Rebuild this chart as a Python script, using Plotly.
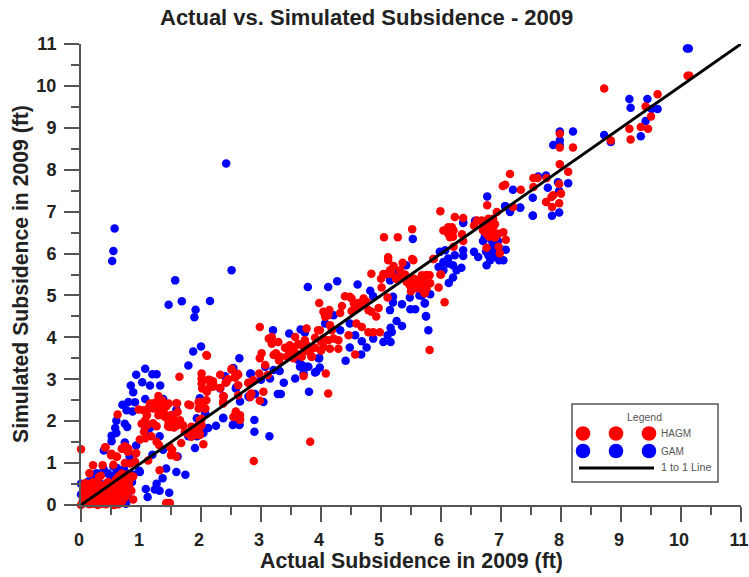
import plotly.graph_objects as go

gam_points = [
(1.46,4.78),(1.68,4.86),(1.91,4.66),(1.89,4.48),(2.15,4.87),(2.0,3.78),(1.87,3.66),(1.79,3.33),(2.64,3.5),(2.54,3.27),
(0.92,3.11),(1.07,3.25),(1.19,3.12),(1.26,3.12),(1.02,2.93),(1.15,2.85),(1.32,2.85),(0.83,2.85),(0.87,2.69),(1.07,2.53),
(0.69,2.39),(0.79,2.46),(0.9,2.45),(0.76,2.26),(0.86,2.23),(0.59,2.01),(0.57,1.84),(0.73,1.94),(0.77,1.86),(0.59,1.72),
(0.51,1.65),(0.51,1.52),(0.73,1.49),(0.38,1.3),(0.92,1.42),(0.81,1.16),(0.98,0.79),(1.07,1.84),(1.15,1.84),(1.07,1.76),
(1.31,1.64),(1.37,1.32),(1.19,1.2),(1.61,1.16),(1.59,2.27),(1.37,2.53),(1.42,0.87),(1.36,0.64),(1.26,0.51),(1.23,0.37),
(1.31,0.34),(1.47,0.29),(1.08,0.38),(1.11,0.19),(1.59,0.79),(1.74,0.72),(1.9,1.36),(1.93,2.07),(2.04,1.72),(2.12,1.84),
(2.25,1.89),(2.37,2.07),(1.98,2.55),(2.07,2.19),(2.54,1.92),(2.64,1.92),(1.79,1.64),(1.93,1.64),(2.59,2.81),(2.4,3.07),
(2.79,2.59),(2.65,2.47),(2.82,3.13),(0.0,0.51),(0.0,0.25),(0.32,0.72),(0.57,0.72),(0.6,0.8),(0.75,0.03),(0.54,0.92),
(0.12,0.56),(0.43,0.52),(0.04,0.13),(0.26,0.76),(0.87,0.72),(2.42,8.15),(0.56,6.6),(0.54,6.06),(0.52,5.82),(1.57,5.36),
(2.51,5.6),(3.2,4.17),(3.47,4.09),(3.66,4.19),(3.73,4.11),(2.83,3.14),(2.32,2.78),(2.58,2.78),(2.81,2.57),(2.9,2.65),
(3.04,2.46),(3.0,2.99),(3.15,3.02),(3.07,3.3),(3.21,3.22),(3.31,3.2),(3.38,2.92),(3.57,3.02),(3.28,2.65),(3.33,2.65),
(3.8,2.7),(3.62,3.46),(3.76,3.3),(3.65,3.3),(3.92,3.18),(3.96,3.5),(2.37,2.08),(2.53,1.91),(2.64,1.91),(2.89,2.03),
(2.89,1.75),(3.14,1.64),(3.78,5.2),(4.12,5.2),(4.27,5.34),(4.61,5.26),(4.82,5.11),(4.87,4.98),(5.15,5.36),(5.29,5.55),
(5.42,5.72),(5.2,4.97),(5.2,4.83),(5.35,4.79),(5.48,4.95),(5.64,5.0),(5.73,4.82),(5.49,4.67),(5.57,4.67),(5.15,4.65),
(5.75,4.5),(5.79,4.17),(5.26,4.39),(5.35,4.27),(5.16,4.23),(5.18,4.13),(5.11,4.05),(5.04,3.89),(5.16,3.89),(4.87,3.97),
(4.68,3.91),(4.76,3.76),(4.67,3.59),(4.48,3.76),(4.57,4.05),(4.41,3.44),(3.97,3.5),(3.79,3.3),(3.98,3.28),(3.9,3.16),
(3.68,3.34),(3.71,3.14),(4.32,4.17),(4.07,4.33),(4.21,4.53),(4.48,4.33),(7.53,6.91),(7.32,7.1),(7.15,7.03),(7.07,7.13),
(6.37,6.75),(6.57,6.78),(5.98,6.04),(6.07,6.08),(6.37,6.08),(6.37,5.94),(6.12,5.88),(6.04,5.8),(5.96,5.68),(6.2,5.72),
(6.34,5.66),(6.04,5.6),(6.12,5.76),(6.26,5.6),(6.2,5.43),(6.13,5.3),(6.23,5.96),(6.55,6.04),(6.62,5.92),(6.76,5.72),
(6.82,5.84),(6.84,6.0),(6.97,5.84),(7.04,5.84),(7.08,6.09),(6.98,6.12),(6.79,5.96),(6.84,6.32),(6.73,6.4),(6.93,6.28),
(5.82,5.03),(5.73,4.81),(5.75,4.51),(5.68,5.0),(10.1,10.89),(10.13,10.89),(9.14,9.69),(9.44,9.69),(9.16,9.48),(9.61,9.45),
(9.51,9.45),(9.41,9.16),(9.33,8.8),(8.72,8.83),(8.83,8.66),(7.98,8.91),(8.2,8.91),(7.98,8.7),(7.87,8.59),(7.98,8.59),
(7.75,7.86),(7.62,7.84),(7.78,7.57),(8.12,7.68),(7.95,7.7),(7.97,7.5),(7.53,7.33),(7.97,6.98),(7.85,6.9),(7.53,6.9),
(7.32,7.09),(7.2,7.52),(6.77,7.36),(7.07,7.13),(7.15,6.99),(6.37,6.73),(5.53,6.35),(6.57,6.77),
(0.2,0.6),(0.05,0.35),(0.3,0.55),(0.45,0.75),(0.5,0.65),(0.75,0.6),(0.85,0.55),(0.38,0.85),(0.6,0.88),(0.72,0.85),
(0.97,0.82),(0.65,0.1),(0.8,0.15),(6.85,6.15),(6.9,6.05),(6.75,6.05),(6.85,5.9),(6.9,5.95),(6.7,6.3),(6.95,6.3),
]

hagm_points = [
(0.0,1.33),(0.2,0.95),(0.36,0.95),(0.14,0.76),(0.41,1.38),(0.51,1.22),(0.59,1.16),(0.54,0.96),(0.73,1.4),(0.68,1.34),
(0.79,1.34),(0.92,1.24),(0.61,2.16),(0.73,1.0),(0.9,1.03),(0.82,0.99),(0.87,0.68),(0.84,0.34),(0.87,0.13),(0.76,0.25),
(1.12,1.06),(1.31,0.83),(1.42,0.05),(1.48,0.05),(2.1,3.56),(1.64,3.06),(2.01,3.14),(2.01,3.02),(2.15,2.98),(2.01,2.9),
(2.02,2.78),(2.15,2.82),(2.2,2.82),(0.96,2.28),(1.04,2.26),(1.15,2.42),(1.29,2.6),(1.21,2.42),(1.32,2.38),(1.46,2.42),
(1.6,2.42),(1.79,2.4),(1.61,2.22),(1.96,2.46),(2.04,2.46),(2.07,2.3),(1.96,2.3),(1.1,2.14),(1.07,2.02),(1.01,1.94),
(1.29,2.14),(1.4,2.1),(1.46,1.98),(1.54,1.98),(1.65,2.02),(1.48,1.86),(1.26,1.88),(1.73,1.74),(1.84,1.78),(1.93,1.86),
(2.01,2.06),(1.98,1.86),(1.9,1.67),(1.84,1.63),(1.98,1.7),(0.98,1.56),(1.07,1.59),(1.17,1.64),(1.26,1.51),(1.3,1.43),
(0.4,1.37),(0.5,1.19),(0.6,1.15),(0.69,1.35),(0.76,1.37),(0.78,1.27),(0.91,1.23),(1.48,1.39),(1.52,1.31),(1.5,1.19),
(1.67,1.48),(2.04,1.45),(1.59,1.15),(1.59,2.43),(2.32,3.11),(2.51,3.25),(2.61,3.13),(2.56,3.05),(2.42,2.93),(2.12,2.99),
(2.21,2.85),(2.32,2.79),(2.38,2.59),(2.37,2.47),(2.79,2.91),(2.82,2.63),(2.58,2.23),(2.62,2.13),(2.57,2.11),(2.65,2.07),
(2.98,4.25),(2.09,3.58),(3.76,4.21),(3.95,4.17),(3.57,4.01),(3.18,4.01),(3.13,3.97),(3.18,3.85),(3.29,3.89),(3.48,3.81),
(3.62,3.84),(3.73,3.89),(3.76,3.81),(3.46,3.69),(3.54,3.62),(3.21,3.58),(3.32,3.54),(3.43,3.54),(3.54,3.5),(3.68,3.54),
(3.79,3.66),(3.85,3.54),(3.01,3.62),(2.98,3.5),(3.07,3.34),(3.71,3.08),(2.51,3.23),(2.41,2.92),(2.57,3.04),(2.62,3.11),
(2.62,2.86),(2.97,3.14),(3.11,3.1),(2.79,2.92),(2.87,2.98),(2.37,2.6),(2.37,2.42),(2.62,2.62),(2.84,2.66),(2.82,2.58),
(3.04,2.7),(2.98,2.49),(1.98,2.46),(2.09,2.5),(1.98,2.34),(2.07,2.3),(1.82,2.38),(2.58,2.19),(2.65,2.14),(2.54,2.1),
(2.65,2.03),(1.98,2.03),(1.96,1.91),(2.01,1.91),(1.84,1.87),(1.93,1.79),(1.98,1.67),(3.82,1.51),(2.88,1.05),
(4.84,5.52),(5.04,5.51),(5.12,5.52),(5.21,5.7),(5.18,5.52),(5.32,5.6),(5.54,5.84),(5.12,5.84),(5.01,5.19),(5.11,4.95),
(5.43,5.32),(5.48,5.24),(5.59,5.32),(5.68,5.48),(5.73,5.44),(5.59,5.2),(5.71,5.09),(5.54,5.16),(5.76,5.16),(4.4,4.98),
(4.48,4.97),(4.51,4.93),(4.62,4.82),(4.71,4.93),(4.76,4.85),(4.79,4.65),(4.96,4.7),(4.84,4.61),(4.92,4.5),(4.68,4.77),
(4.51,4.63),(4.32,4.58),(3.97,4.82),(4.14,4.65),(4.04,4.61),(4.12,4.53),(4.07,4.49),(4.59,4.33),(4.68,4.25),(4.79,4.12),
(4.87,4.12),(4.98,4.12),(4.46,4.05),(4.57,3.59),(3.98,4.17),(4.15,4.29),(4.18,4.17),(3.9,3.99),(3.73,3.93),(3.68,3.81),
(3.82,3.69),(3.84,3.54),(4.04,3.97),(4.12,3.93),(4.21,3.97),(4.29,3.93),(4.04,3.77),(4.15,3.73),(4.29,3.73),(5.81,3.7),
(4.08,3.14),(3.73,3.69),(4.12,2.66),(5.05,6.39),(5.28,6.39),(5.52,6.58),(5.12,5.91),(5.52,5.87),(5.36,5.78),(5.07,5.5),
(5.32,5.45),(6.0,5.5),(5.88,5.87),(5.76,5.49),(5.82,5.29),(5.73,5.05),(5.62,5.17),(5.48,5.37),(5.54,5.25),(5.43,5.33),
(5.65,5.25),(10.11,10.24),(10.14,10.24),(8.72,9.94),(9.61,9.8),(9.41,9.51),(9.5,9.27),(9.45,8.98),(9.33,9.02),(9.14,8.98),
(9.16,8.72),(8.83,8.7),(7.98,8.86),(7.98,8.53),(8.2,8.53),(7.98,8.13),(8.12,7.95),(7.15,7.9),(7.07,7.64),(7.03,7.61),
(7.33,7.52),(7.54,7.8),(7.61,7.8),(7.76,7.8),(7.54,7.59),(7.97,7.66),(8.0,7.43),(7.87,7.39),(7.84,7.35),(7.75,7.23),
(7.97,7.2),(7.85,7.11),(7.2,7.11),(6.77,7.15),(6.93,6.99),(5.99,7.01),(6.23,6.87),(6.37,6.85),(6.6,6.79),(6.68,6.79),
(6.79,6.83),(6.87,6.83),(6.04,6.55),(6.12,6.63),(6.18,6.63),(6.12,6.47),(6.21,6.55),(6.15,6.39),(6.35,6.46),(6.37,6.3),
(6.21,6.16),(6.55,6.67),(6.76,6.63),(6.87,6.63),(6.76,6.47),(6.87,6.51),(6.96,6.47),(7.04,6.51),(7.08,6.33),(6.76,6.14),
(6.96,6.16),(6.98,6.0),(5.87,5.87),(5.99,5.5),(5.96,5.19),(6.06,4.84),(5.81,5.48),
(0.0,0.0),(0.02,0.03),(0.03,0.1),(0.03,0.2),(0.05,0.33),(0.05,0.45),(0.07,0.52),(0.08,0.05),(0.08,0.15),(0.1,0.28),
(0.11,0.4),(0.13,0.5),(0.14,0.02),(0.15,0.12),(0.16,0.22),(0.17,0.35),(0.18,0.46),(0.2,0.55),(0.2,0.03),(0.22,0.1),
(0.23,0.18),(0.25,0.3),(0.26,0.42),(0.28,0.0),(0.29,0.07),(0.3,0.15),(0.31,0.25),(0.33,0.38),(0.33,0.7),(0.3,0.67),
(0.35,0.03),(0.37,0.12),(0.38,0.22),(0.4,0.32),(0.42,0.02),(0.43,0.1),(0.45,0.2),(0.47,0.3),(0.47,0.42),(0.5,0.05),
(0.5,0.15),(0.52,0.28),(0.53,0.38),(0.55,0.0),(0.55,0.5),(0.57,0.22),(0.58,0.1),(0.6,0.33),(0.6,0.42),(0.62,0.02),
(0.63,0.55),(0.65,0.25),(0.66,0.15),(0.67,0.65),(0.7,0.3),(0.7,0.45),(0.72,0.55),(0.75,0.6),(0.77,0.35),(0.82,0.68),
(0.78,0.72),(0.68,0.75),(0.62,0.68),(0.58,0.6),(0.45,0.55),
(0.09,0.48),(0.21,0.38),(0.24,0.52),(0.34,0.48),(0.39,0.44),(0.12,0.08),(0.18,0.16),(0.27,0.22),(0.33,0.1),(0.4,0.2),
(0.47,0.08),(0.53,0.14),(0.6,0.2),(0.68,0.08),(0.73,0.18),(0.72,0.4),(0.8,0.45),(0.8,0.55),(0.65,0.45),(0.5,0.45),
(1.12,2.3),(1.2,2.3),(1.25,2.45),(1.35,2.5),(1.42,2.35),(1.3,2.25),(1.38,2.2),(1.5,2.15),(1.55,2.05),(1.6,1.9),
(1.45,1.88),(1.55,1.85),(1.7,1.9),(1.78,1.7),(1.2,1.95),(1.1,1.9),(1.05,1.75),(2.1,2.7),(2.2,2.95),(2.45,3.0),
(3.25,3.62),(3.4,3.75),(3.55,3.75),(3.3,3.45),(3.6,3.6),(3.9,3.75),(4.0,3.9),(4.0,3.68),(4.35,4.75),(4.55,4.8),
(4.6,4.7),(5.0,5.4),(5.15,5.6),(5.25,5.4),(5.4,5.5),(5.55,5.4),(5.7,5.3),(5.5,5.1),(5.6,5.35),(6.7,6.7),
(6.8,6.7),(6.9,6.7),(6.7,6.55),(6.8,6.4),(6.9,6.38),(6.1,6.55),(6.15,6.55),(6.2,6.4),
]

line_x = [0, 11]
line_y = [0, 11]
tick_values = list(range(0, 12))
title_text = "Actual vs. Simulated Subsidence - 2009"
x_title = "Actual Subsidence in 2009 (ft)"
y_title = "Simulated Subsidence in 2009 (ft)"

FONT = "Liberation Sans, Arial, sans-serif"
DARK = "#222222"
AXIS = "#555555"
def px(x): return (x - 81) / 660
def py(y): return (505 - y) / 461

fig = go.Figure()
fig.add_trace(go.Scatter(x=[p[0] for p in gam_points], y=[p[1] for p in gam_points], mode="markers", name="GAM",
                         marker=dict(color="#0000ff", size=8.5), cliponaxis=False))
fig.add_trace(go.Scatter(x=[p[0] for p in hagm_points], y=[p[1] for p in hagm_points], mode="markers", name="HAGM",
                         marker=dict(color="#ff0000", size=8.5), cliponaxis=False))
fig.add_trace(go.Scatter(x=line_x, y=line_y, mode="lines", name="1 to 1 Line",
                         line=dict(color="black", width=3), cliponaxis=False))

shapes = [dict(type="rect", xref="paper", yref="paper", x0=px(572), x1=px(718), y0=py(482), y1=py(404),
               line=dict(color=AXIS, width=1.5), fillcolor="white")]
for cy, col in [(433.5, "#ff0000"), (451, "#0000ff")]:
    for cx in [583, 616, 649]:
        shapes.append(dict(type="circle", xref="paper", yref="paper", x0=px(cx - 7.3), x1=px(cx + 7.3),
                           y0=py(cy + 7.3), y1=py(cy - 7.3), fillcolor=col, line=dict(width=0)))
shapes.append(dict(type="line", xref="paper", yref="paper", x0=px(579), x1=px(654), y0=py(468), y1=py(468),
                   line=dict(color="black", width=3)))

def note(text, x, y, anchor="left", size=10, color="#555555", bold=False, angle=0):
    return dict(text=f"<b>{text}</b>" if bold else text, xref="paper", yref="paper", x=px(x), y=py(y),
                xanchor=anchor, yanchor="middle", showarrow=False, textangle=angle,
                font=dict(family=FONT, size=size, color=color))

annotations = [
    note("Legend", 644, 417, "center", 10.5),
    note("HAGM", 658.5, 433.5),
    note("GAM", 658.5, 451),
    note("1 to 1 Line", 658.5, 467, size=10.8),
    note(title_text, 366, 18, "center", 22, DARK, True),
    note(x_title, 411, 561, "center", 21.3, DARK, True),
    note(y_title, 21, 274, "center", 21.2, DARK, True, -90),
]

axis = dict(range=[0, 11], tickmode="array", tickvals=tick_values, ticktext=[str(t) for t in tick_values],
            ticks="outside", ticklen=15, tickwidth=1.5, tickcolor=AXIS,
            showline=True, linecolor=AXIS, linewidth=2, showgrid=False, zeroline=False,
            ticklabeloverflow="allow",
            tickfont=dict(family=FONT, size=18, color=DARK, weight="bold"),
            minor=dict(tickmode="array", tickvals=[i + 0.5 for i in range(11)], ticks="outside", ticklen=8,
                       tickwidth=1.5, tickcolor=AXIS))

fig.update_layout(width=749, height=577, margin=dict(l=81, r=8, t=44, b=72, autoexpand=False), showlegend=False,
                  plot_bgcolor="white", paper_bgcolor="white",
                  xaxis=dict(axis, ticklabelstandoff=2, ticklabelshift=-2), yaxis=dict(axis, ticklabelstandoff=4),
                  shapes=shapes, annotations=annotations)
fig.write_html("out.html", post_script="document.body.style.margin='0';", config=dict(displayModeBar=False))
